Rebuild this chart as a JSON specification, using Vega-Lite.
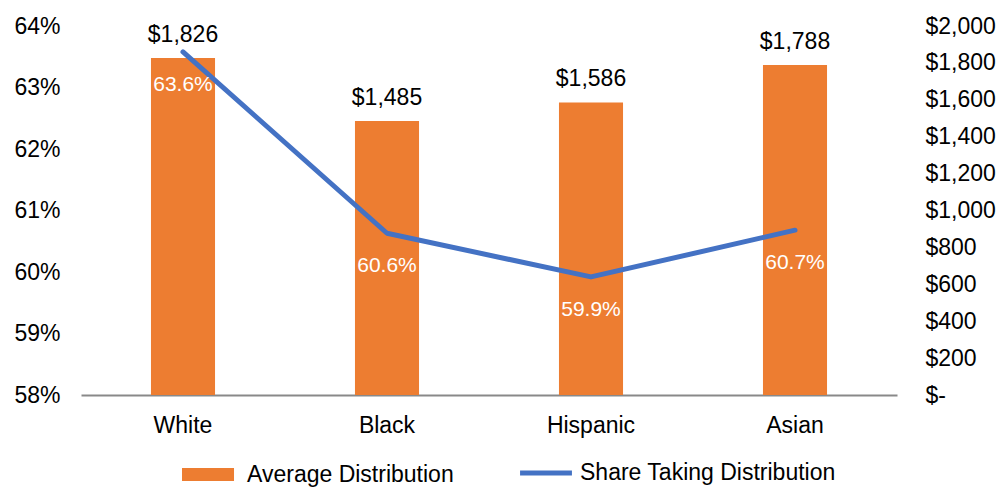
{
  "$schema": "https://vega.github.io/schema/vega-lite/v6.json",
  "width": 816,
  "height": 369,
  "autosize": {"type": "none"},
  "padding": {"left": 81, "top": 26, "right": 105, "bottom": 92},
  "background": "white",
  "config": {
    "font": "Liberation Sans",
    "view": {"stroke": null},
    "axis": {"labelFont": "Liberation Sans", "labelColor": "#000000", "grid": false, "ticks": false, "tickSize": 0, "title": null, "labelFontSize": 23},
    "legend": {"labelFont": "Liberation Sans", "labelFontSize": 23, "labelColor": "#000000", "labelLimit": 500}
  },
  "data": {"values": [
    {"group": "White", "avg": 1826, "share": 0.6358},
    {"group": "Black", "avg": 1485, "share": 0.6063},
    {"group": "Hispanic", "avg": 1586, "share": 0.5992},
    {"group": "Asian", "avg": 1788, "share": 0.6068}
  ]},
  "encoding": {
    "x": {"field": "group", "type": "nominal", "sort": null,
      "scale": {"paddingInner": 0.686, "paddingOuter": 0.343},
      "axis": {"labelAngle": 0, "domainColor": "#898989", "domainWidth": 2, "labelPadding": 19, "title": null}}
  },
  "layer": [
    {
      "encoding": {
        "y": {"field": "avg", "type": "quantitative",
          "scale": {"domain": [0, 2000], "nice": false, "zero": true},
          "axis": {"orient": "right", "values": [0, 200, 400, 600, 800, 1000, 1200, 1400, 1600, 1800, 2000],
            "labelExpr": "datum.value === 0 ? '$-' : format(datum.value, '$,')",
            "labelPadding": 28, "domain": false, "title": null}}
      },
      "layer": [
        {"mark": {"type": "bar", "color": "#ED7D31"},
          "encoding": {"color": {"datum": "Average Distribution", "scale": {"range": ["#ED7D31"]},
            "legend": {"orient": "none", "legendX": 101, "legendY": 420, "title": null, "labelLimit": 500,
              "symbolType": "M-1,-0.228H0.825V0.228H-1Z", "symbolSize": 3249, "labelOffset": 8, "symbolStrokeWidth": 0}}}},
        {"mark": {"type": "text", "baseline": "alphabetic", "dy": -16, "fontSize": 23, "color": "#000000"},
          "encoding": {"text": {"field": "avg", "type": "quantitative", "format": "$,.0f"}}}
      ]
    },
    {
      "encoding": {
        "y": {"field": "share", "type": "quantitative",
          "scale": {"domain": [0.58, 0.64], "nice": false, "zero": false},
          "axis": {"orient": "left", "values": [0.58, 0.59, 0.6, 0.61, 0.62, 0.63, 0.64], "format": ".0%",
            "labelPadding": 21, "domain": false, "title": null}}
      },
      "layer": [
        {"mark": {"type": "line", "strokeWidth": 5, "strokeCap": "round", "strokeJoin": "round"},
          "encoding": {"stroke": {"datum": "Share Taking Distribution", "scale": {"range": ["#4472C4"]},
            "legend": {"orient": "none", "legendX": 434, "legendY": 416, "title": null, "labelLimit": 500,
              "symbolType": "M-0.91,0H0.91", "symbolSize": 3249, "symbolStrokeWidth": 5, "labelOffset": 3, "symbolFillColor": "transparent"}}}},
        {"mark": {"type": "text", "baseline": "middle", "dy": 33, "fontSize": 21, "color": "#ffffff"},
          "encoding": {"text": {"field": "share", "type": "quantitative", "format": ".1%"}}}
      ]
    }
  ],
  "resolve": {"scale": {"y": "independent"}}
}
